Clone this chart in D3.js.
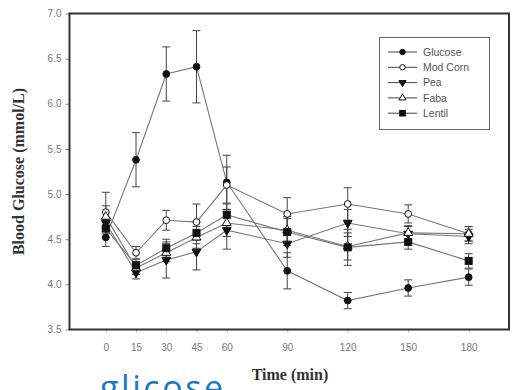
<!DOCTYPE html>
<html>
<head>
<meta charset="utf-8">
<script src="https://cdn.jsdelivr.net/npm/d3@7"></script>
<style>
  body { margin: 0; background: #fff; }
  .tick text { font-family: "Liberation Sans", Arial, sans-serif; font-size: 10px; fill: #777; }
  .axisTitle { font-family: "Liberation Serif", "Times New Roman", serif; font-weight: bold; font-size: 16px; fill: #333; }
  .legendText { font-family: "Liberation Sans", Arial, sans-serif; font-size: 10.5px; fill: #555; }
</style>
</head>
<body>
<svg id="chart"></svg>
<script>
var times = [0, 15, 30, 45, 60, 90, 120, 150, 180];
var yTicks = [3.5, 4.0, 4.5, 5.0, 5.5, 6.0, 6.5, 7.0];
var seriesNames = ["Glucose", "Mod Corn", "Pea", "Faba", "Lentil"];

var glucose    = [4.52, 5.38, 6.33, 6.41, 5.13, 4.15, 3.82, 3.96, 4.08];
var glucoseErr = [0.10, 0.30, 0.30, 0.40, 0.30, 0.20, 0.09, 0.09, 0.09];
var modCorn    = [4.80, 4.35, 4.71, 4.69, 5.10, 4.78, 4.89, 4.78, 4.56];
var modCornErr = [0.22, 0.07, 0.11, 0.20, 0.20, 0.18, 0.18, 0.10, 0.08];
var pea        = [4.68, 4.13, 4.27, 4.36, 4.60, 4.45, 4.68, 4.56, 4.53];
var peaErr     = [0.12, 0.07, 0.20, 0.20, 0.21, 0.15, 0.15, 0.08, 0.08];
var faba       = [4.75, 4.18, 4.35, 4.52, 4.68, 4.60, 4.42, 4.57, 4.56];
var fabaErr    = [0.12, 0.07, 0.10, 0.12, 0.15, 0.15, 0.15, 0.08, 0.08];
var lentil     = [4.62, 4.21, 4.40, 4.57, 4.77, 4.58, 4.41, 4.47, 4.26];
var lentilErr  = [0.10, 0.07, 0.10, 0.12, 0.12, 0.15, 0.20, 0.08, 0.08];

var svg = d3.select("#chart").attr("width", 513).attr("height", 390);

var x = d3.scaleLinear().domain([-18, 200]).range([69.5, 509]);
var y = d3.scaleLinear().domain([3.5, 7.0]).range([329.5, 13.5]);

var series = [
  { name: seriesNames[0], vals: glucose, err: glucoseErr, shape: "circle", fill: "#111" },
  { name: seriesNames[1], vals: modCorn, err: modCornErr, shape: "circle", fill: "#fff" },
  { name: seriesNames[2], vals: pea, err: peaErr, shape: "down", fill: "#111" },
  { name: seriesNames[3], vals: faba, err: fabaErr, shape: "up", fill: "#fff" },
  { name: seriesNames[4], vals: lentil, err: lentilErr, shape: "square", fill: "#111" }
];

// axes
svg.append("g")
  .attr("transform", "translate(69.5,0)")
  .call(d3.axisLeft(y).tickValues(yTicks).tickFormat(d3.format(".1f")).tickSize(4).tickPadding(4))
  .call(function (g) { g.select(".domain").remove(); g.selectAll("line").attr("stroke", "#888"); });

svg.append("g")
  .attr("transform", "translate(0,329.5)")
  .call(d3.axisBottom(x).tickValues(times).tickSize(3).tickPadding(11))
  .call(function (g) { g.select(".domain").remove(); g.selectAll("line").attr("stroke", "#bbb"); });

// frame
svg.append("rect")
  .attr("x", 69.5).attr("y", 13.5)
  .attr("width", 509 - 69.5).attr("height", 329.5 - 13.5)
  .attr("fill", "none").attr("stroke", "#333").attr("stroke-width", 2);

var line = d3.line()
  .x(function (d, i) { return x(times[i]); })
  .y(function (d) { return y(d); });

// lines
series.forEach(function (s) {
  svg.append("path")
    .attr("d", line(s.vals))
    .attr("fill", "none")
    .attr("stroke", "#777")
    .attr("stroke-width", 1.1);
});

// error bars
series.forEach(function (s) {
  var g = svg.append("g").attr("stroke", "#444").attr("stroke-width", 1);
  s.vals.forEach(function (v, i) {
    var cx = x(times[i]);
    g.append("line").attr("x1", cx).attr("x2", cx).attr("y1", y(v - s.err[i])).attr("y2", y(v + s.err[i]));
    g.append("line").attr("x1", cx - 4).attr("x2", cx + 4).attr("y1", y(v - s.err[i])).attr("y2", y(v - s.err[i]));
    g.append("line").attr("x1", cx - 4).attr("x2", cx + 4).attr("y1", y(v + s.err[i])).attr("y2", y(v + s.err[i]));
  });
});

function drawMarker(g, shape, fill, cx, cy, k) {
  if (shape === "circle") {
    g.append("circle").attr("cx", cx).attr("cy", cy).attr("r", 3.4 * k)
      .attr("fill", fill).attr("stroke", "#111").attr("stroke-width", 1);
  } else if (shape === "square") {
    g.append("rect").attr("x", cx - 3.5 * k).attr("y", cy - 3.5 * k).attr("width", 7 * k).attr("height", 7 * k)
      .attr("fill", fill).attr("stroke", "#111");
  } else {
    g.append("path")
      .attr("d", d3.symbol().type(d3.symbolTriangle).size(34 * k * k)())
      .attr("transform", "translate(" + cx + "," + cy + ")" + (shape === "down" ? " rotate(180)" : ""))
      .attr("fill", fill).attr("stroke", "#111");
  }
}

// markers
series.forEach(function (s) {
  var g = svg.append("g");
  s.vals.forEach(function (v, i) {
    drawMarker(g, s.shape, s.fill, x(times[i]), y(v), 1);
  });
});

// legend
var legend = svg.append("g").attr("class", "legend");
legend.append("rect")
  .attr("x", 379.5).attr("y", 37.5).attr("width", 110).attr("height", 92)
  .attr("fill", "#fff").attr("stroke", "#666");
series.forEach(function (s, i) {
  var ly = 52 + i * 15.3;
  legend.append("line").attr("x1", 388).attr("x2", 417).attr("y1", ly).attr("y2", ly)
    .attr("stroke", "#444").attr("stroke-width", 1);
  drawMarker(legend, s.shape, s.fill, 402.5, ly, 0.8);
  legend.append("text").attr("class", "legendText")
    .attr("x", 423).attr("y", ly).attr("dy", "0.35em").text(s.name);
});

// axis titles
svg.append("text").attr("class", "axisTitle")
  .attr("transform", "translate(24,171.5) rotate(-90)")
  .attr("text-anchor", "middle")
  .text("Blood Glucose (mmol/L)");

svg.append("text").attr("class", "axisTitle")
  .attr("x", 290).attr("y", 380)
  .attr("text-anchor", "middle")
  .text("Time (min)");

svg.append("text")
  .attr("x", 100).attr("y", 400)
  .attr("textLength", 123)
  .attr("font-family", "'Open Sans', 'Noto Sans', sans-serif")
  .attr("font-size", 34)
  .attr("fill", "#1a78c2")
  .text("glicose");
</script>
</body>
</html>
